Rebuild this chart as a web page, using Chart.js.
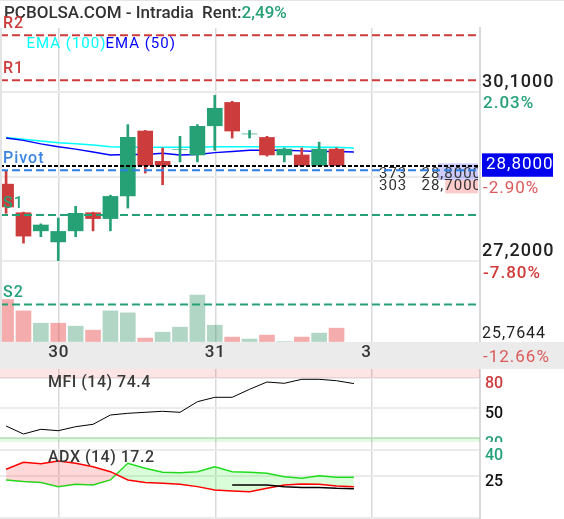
<!DOCTYPE html>
<html>
<head>
<meta charset="utf-8">
<title>PCBOLSA intradia</title>
<script src="https://cdn.jsdelivr.net/npm/chart.js@4.4.1/dist/chart.umd.min.js"></script>
<style>
html, body { margin: 0; padding: 0; background: #fff; }
#wrap { position: relative; width: 564px; height: 519px; overflow: hidden; }
.pane { position: absolute; left: 0; width: 564px; }
</style>
</head>
<body>
<div id="wrap">
  <div class="pane" style="top:0px"><canvas id="priceChart" width="564" height="369"></canvas></div>
  <div class="pane" style="top:369px"><canvas id="mfiChart" width="564" height="73"></canvas></div>
  <div class="pane" style="top:442px"><canvas id="adxChart" width="564" height="77"></canvas></div>
</div>
<script>
// ---- values ----
const opens  = [28.52, 28.03, 27.72, 27.53, 27.72, 28.03, 27.93, 28.32, 29.43, 28.91, 29.11, 29.02, 29.52, 29.92, 29.38, 29.32, 29.02, 29.02, 28.84, 29.12];
const highs  = [28.74, 28.04, 27.84, 27.94, 28.14, 28.04, 28.33, 29.54, 29.44, 29.14, 29.34, 29.54, 30.04, 29.94, 29.44, 29.34, 29.14, 29.14, 29.24, 29.14];
const lows   = [28.02, 27.51, 27.62, 27.21, 27.62, 27.72, 27.72, 28.11, 28.71, 28.51, 28.90, 28.90, 29.10, 29.31, 29.31, 29.00, 28.90, 28.84, 28.84, 28.84];
const closes = [28.13, 27.63, 27.82, 27.71, 28.02, 27.93, 28.31, 29.32, 28.84, 28.84, 29.11, 29.51, 29.82, 29.43, 29.38, 29.02, 29.12, 28.84, 29.12, 28.84];
const volume = [85, 62, 37, 37, 31, 23, 62, 58, 7, 19, 29, 94, 33, 9, 5, 13, 0, 9, 17, 27];
const volUp  = [0, 0, 1, 0, 1, 0, 1, 1, 0, 1, 1, 1, 1, 0, 1, 0, 1, 0, 1, 0];

const ema100 = [29.32, 29.29, 29.26, 29.23, 29.21, 29.19, 29.16, 29.15, 29.15, 29.15, 29.15, 29.15, 29.16, 29.16, 29.16, 29.16, 29.16, 29.16, 29.15, 29.15, 29.14];
const ema50  = [29.31, 29.27, 29.21, 29.16, 29.12, 29.07, 29.02, 29.03, 29.03, 29.05, 29.02, 29.03, 29.06, 29.08, 29.10, 29.10, 29.10, 29.09, 29.08, 29.08, 29.07];

const pivotNames  = ['R2', 'R1', 'Pivot', 'S1', 'S2'];
const pivotLevels = [31.07, 30.30, 28.76, 27.99, 26.46];
const lastPrice = 28.83;
const lastPriceLabel = '28,8000';
const bookQty   = [373, 303];
const bookPrice = ['28,8000', '28,7000'];

const dayTickPos    = [3.05, 12.05, 21.05];
const dayTickLabels = ['30', '31', '3'];
const priceTicks      = [30.1, 28.65, 27.2, 25.7644];
const priceTickLabels = ['30,1000', '', '27,2000', '25,7644'];
const pctTickLabels   = ['2.03%', '-2.90%', '-7.80%', '-12.66%'];
const PRICE_MIN = 25.7644, PRICE_MAX = 31.195;

const mfi = [32, 24, 28.7, 27.3, 31.3, 33.7, 43, 44.7, 45.7, 46.7, 45.7, 56.3, 60.7, 60.7, 68.7, 76, 74.7, 78.7, 78.7, 77.3, 74.4];
const mfiTicks  = [80, 50, 20];
const mfiLabels = ['80', '50', '20'];

const plusDI  = [22.4, 21.4, 20.8, 18.4, 19.8, 19.4, 22.4, 32.3, 29.4, 27.0, 26.7, 27.3, 30.3, 27.3, 27.0, 26.4, 24.3, 23.4, 24.9, 24.0, 24.0];
const minusDI = [28.8, 32.9, 32.1, 33.7, 32.3, 30.3, 27.3, 22.4, 20.8, 20.4, 19.8, 18.4, 16.4, 15.8, 15.4, 17.4, 19.4, 20.0, 19.8, 18.8, 18.4];
const adx     = [null, null, null, null, null, null, null, null, null, null, null, null, null, 19.4, 19.4, 19.4, 18.4, 17.9, 17.9, 17.4, 17.2];
const adxTicks  = [40, 25, 0];
const adxLabels = ['40', '25', ''];

const X_MIN = -0.35, X_MAX = 27.25;

// ---- styles ----
const GREEN = '#26a176', RED = '#cd3c3c', TXT = '#333333';
const GRID_H = '#ebebeb', GRID_V = '#d9d9d9';
const AXIS_W = 84;

const pts = arr => arr.map((v, i) => ({ x: i, y: v }));
const flat = v => [{ x: X_MIN, y: v }, { x: X_MAX, y: v }];

function txt(ctx, s, x, y, font, color, spacing) {
  ctx.save();
  ctx.font = font;
  ctx.fillStyle = color;
  ctx.textAlign = 'left';
  ctx.textBaseline = 'alphabetic';
  ctx.letterSpacing = spacing || '0px';
  ctx.fillText(s, x, y);
  const w = ctx.measureText(s).width;
  ctx.restore();
  return w;
}

function xScale(h) {
  return {
    type: 'linear', min: X_MIN, max: X_MAX, offset: false,
    afterBuildTicks: s => { s.ticks = dayTickPos.map(v => ({ value: v })); },
    afterFit: s => { s.height = h; },
    ticks: { display: false },
    grid: { color: GRID_V, lineWidth: 1.5, drawTicks: false, offset: false },
    border: { display: false }
  };
}
function yScale(min, max, ticks) {
  return {
    position: 'right', min: min, max: max,
    afterBuildTicks: s => { s.ticks = ticks.map(v => ({ value: v })); },
    afterFit: s => { s.width = AXIS_W; },
    ticks: { display: false },
    grid: { color: GRID_H, lineWidth: 2, drawTicks: false },
    border: { display: true, color: GRID_V, width: 2 }
  };
}
const common = {
  responsive: false, animation: false, devicePixelRatio: 1, events: [],
  plugins: { legend: { display: false }, tooltip: { enabled: false } }
};

const up = opens.map((o, i) => closes[i] >= o);
const candleColors = up.map(u => u ? GREEN : RED);
const pivotColors = [RED, RED, '#2f7fe0', GREEN, GREEN];
const pivotText = [RED, RED, '#3d85e0', GREEN, GREEN];

const priceDecor = {
  id: 'priceDecor',
  beforeDatasetsDraw(chart) {
    const { ctx, chartArea: a, scales: { y } } = chart;
    const py = y.getPixelForValue(lastPrice);
    ctx.save();
    ctx.beginPath();
    ctx.rect(a.left, a.top, a.right - 2 - a.left, a.bottom - a.top);
    ctx.clip();
    const rows = [[py - 2.7, 16.7, py + 12.3], [py + 14, 13.3, py + 24]];
    bookQty.forEach((q, i) => {
      const w = q * 0.108;
      ctx.fillStyle = i === 0 ? 'rgba(0,0,255,0.2)' : 'rgba(255,0,0,0.2)';
      ctx.fillRect(a.right - 2 - w, rows[i][0], w, rows[i][1]);
      txt(ctx, String(q), 379, rows[i][2], '15px Roboto', TXT, '1px');
      txt(ctx, bookPrice[i], 421.5, rows[i][2], '15px Roboto', TXT, '1px');
    });
    ctx.restore();
  },
  afterDraw(chart) {
    const { ctx, chartArea: a, scales: { x, y } } = chart;
    ctx.save();
    ctx.fillStyle = '#e6e6e6';
    ctx.fillRect(0, 0, chart.width, 1);
    ctx.fillStyle = '#e3e3e3';
    ctx.fillRect(0, a.top, 2, a.bottom - a.top);
    ctx.fillStyle = '#ebebeb';
    ctx.fillRect(0, a.bottom - 3, chart.width, chart.height - a.bottom + 3);
    ctx.restore();

    dayTickPos.forEach((p, i) => {
      txt(ctx, dayTickLabels[i], x.getPixelForValue(p) - 11, 356.7, '500 17px Roboto', TXT, '1px');
    });

    const w = txt(ctx, 'PCBOLSA.COM - Intradia  Rent:', 4, 18, '500 17px Roboto', TXT);
    txt(ctx, '2,49%', 4 + w, 18, '500 17px Roboto', GREEN);

    pivotLevels.forEach((lvl, k) => {
      txt(ctx, pivotNames[k], 3, y.getPixelForValue(lvl) - 7, '500 16px Roboto', pivotText[k], '1px');
    });

    const we = txt(ctx, 'EMA (100)', 26.5, 48.3, '15px Roboto', '#00ffff', '1px');
    txt(ctx, 'EMA (50)', 26.5 + we - 1, 48.3, '15px Roboto', '#0000ff', '1px');

    priceTicks.forEach((v, i) => {
      const py = y.getPixelForValue(v);
      const major = priceTickLabels[i] !== '' && i < priceTicks.length - 1;
      if (priceTickLabels[i]) {
        txt(ctx, priceTickLabels[i], 482, py - (major ? 5 : 6.7), major ? '500 18px Roboto' : '16px Roboto', '#222', '1px');
      }
      const neg = pctTickLabels[i].charAt(0) === '-';
      txt(ctx, pctTickLabels[i], 483, py + 16.5, (major ? '500 ' : '') + '17px Roboto', neg ? (major ? '#d03a3a' : '#dc5a5a') : GREEN, '1px');
    });

    const py = y.getPixelForValue(lastPrice);
    ctx.save();
    ctx.fillStyle = '#0000ee';
    ctx.fillRect(482, py - 12.7, 71, 23.4);
    ctx.restore();
    txt(ctx, lastPriceLabel, 486, py + 3, '17px Roboto', '#ffffff', '1px');
  }
};

new Chart(document.getElementById('priceChart'), {
  type: 'bar',
  data: {
    datasets: [
      { type: 'bar', yAxisID: 'yv', data: pts(volume), grouped: false, barThickness: 15,
        backgroundColor: volUp.map(u => u ? 'rgba(40,140,95,0.36)' : 'rgba(230,70,70,0.45)'), order: 10 },
      { type: 'line', yAxisID: 'y', data: pts(ema100), borderColor: '#00ffff', borderWidth: 1.5, pointRadius: 0, order: 9 },
      { type: 'line', yAxisID: 'y', data: pts(ema50), borderColor: '#0000ff', borderWidth: 1.5, pointRadius: 0, order: 8 },
      { type: 'bar', yAxisID: 'y', data: opens.map((o, i) => ({ x: i, y: [lows[i], highs[i]] })), grouped: false, barThickness: 2,
        backgroundColor: candleColors, order: 7 },
      { type: 'bar', yAxisID: 'y', data: opens.map((o, i) => ({ x: i, y: [o, closes[i]] })), grouped: false, barThickness: 15,
        backgroundColor: candleColors, order: 6 },
      ...pivotLevels.map((lvl, k) => ({
        type: 'line', yAxisID: 'y', data: flat(lvl), borderColor: pivotColors[k], borderWidth: 2,
        borderDash: [8, 4], pointRadius: 0, order: 3
      })),
      { type: 'line', yAxisID: 'y', data: flat(lastPrice), borderColor: '#000', borderWidth: 2, borderDash: [4, 2], pointRadius: 0, order: 2 }
    ]
  },
  options: {
    ...common,
    layout: { padding: { top: 28, left: 0, right: 0, bottom: 0 } },
    scales: { x: xScale(24), y: yScale(PRICE_MIN, PRICE_MAX, priceTicks), yv: { display: false, min: -7, max: 634 } }
  },
  plugins: [priceDecor]
});

function panelDecor(id, title, ticks, labels, colors, titleY) {
  return {
    id: id,
    afterDraw(chart) {
      const { ctx, scales: { y } } = chart;
      ticks.forEach((v, i) => {
        if (labels[i]) txt(ctx, labels[i], 485, y.getPixelForValue(v) + 10, '500 16px Roboto', colors[i]);
      });
      txt(ctx, title, 48, titleY, '500 16px Roboto', '#3a3a3a', '0.5px');
    }
  };
}

new Chart(document.getElementById('mfiChart'), {
  type: 'line',
  data: {
    datasets: [
      { data: flat(80), borderWidth: 0, borderColor: 'transparent', pointRadius: 0, fill: 'end', backgroundColor: 'rgba(245,0,0,0.1)', order: 5 },
      { data: flat(20), borderWidth: 1, borderColor: 'rgba(0,190,0,0.25)', pointRadius: 0, fill: 'start', backgroundColor: 'rgba(0,200,0,0.1)', order: 4 },
      { data: pts(mfi), borderColor: '#000', borderWidth: 1, pointRadius: 0, order: 1 }
    ]
  },
  options: { ...common, layout: { padding: 0 }, scales: { x: xScale(0), y: yScale(16, 89, mfiTicks) } },
  plugins: [panelDecor('mfiDecor', 'MFI (14) 74.4', mfiTicks, mfiLabels, [RED, '#111', GREEN], 17.7)]
});

new Chart(document.getElementById('adxChart'), {
  type: 'line',
  data: {
    datasets: [
      { data: pts(plusDI), borderColor: '#1ee01e', borderWidth: 1.5, pointRadius: 0, order: 3 },
      { data: pts(minusDI), borderColor: '#ff0000', borderWidth: 1.5, pointRadius: 0, order: 2,
        fill: { target: 0, above: 'rgba(255,0,0,0.15)', below: 'rgba(0,235,0,0.15)' } },
      { data: pts(adx), borderColor: '#000', borderWidth: 1.5, pointRadius: 0, order: 1 }
    ]
  },
  options: { ...common, layout: { padding: { bottom: 1.5 } }, scales: { x: xScale(0), y: yScale(0, 45, adxTicks) } },
  plugins: [panelDecor('adxDecor', 'ADX (14) 17.2', adxTicks, adxLabels, [GREEN, '#111', '#111'], 20.3)]
});
</script>
</body>
</html>
